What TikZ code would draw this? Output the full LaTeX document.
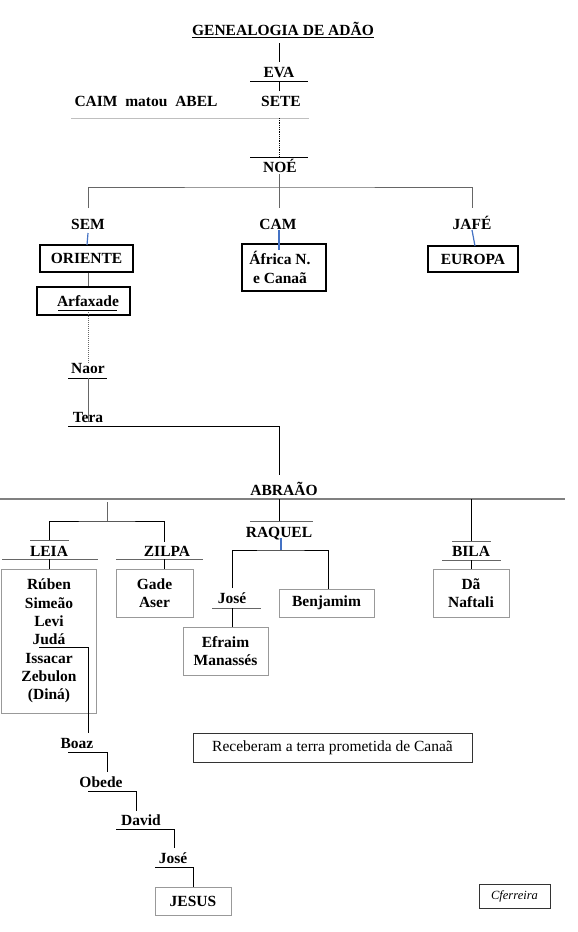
\documentclass[tikz,border=0pt]{standalone}
\usepackage{fontspec}
\setmainfont{Liberation Serif}
\definecolor{lblue}{RGB}{68,114,196}
\begin{document}
\begin{tikzpicture}[x=1pt,y=-1pt,
  t/.style={font=\fontsize{15.5}{18.3}\selectfont\bfseries, inner sep=0pt, text height=12pt, text depth=1.8pt},
  bt/.style={font=\fontsize{15.5}{18.3}\selectfont\bfseries, align=center, inner sep=0pt},
  kbox/.style={bt, draw=black, line width=1.2pt},
  gbox/.style={bt, draw=black!40, line width=1pt},
  ln/.style={draw=black, line width=0.8pt},
  gln/.style={draw=black!60, line width=1pt},
  bl/.style={draw=lblue, line width=1.2pt}]
\useasboundingbox (0,0) rectangle (578,932);
\fill[white] (0,0) rectangle (578,932);

% ---------- top ----------
\node[t] (title) at (283,30) {GENEALOGIA DE ADÃO};
\draw[ln] (title.south west) -- (title.south east);
\coordinate (t1) at (279,43);
\coordinate (t2) at (279,62);
\draw[ln] (t1) -- (t2);
\node[t] (eva) at (279,72) {EVA};
\draw[ln] (250,81) -- (308,81);
\coordinate (e1) at (279,81);
\coordinate (e2) at (279,91);
\draw[ln] (e1) -- (e2);
\node[t] (sete) at (281,101) {SETE};
\node[t] (caim) at (146,101) {CAIM\ \ matou\ \ ABEL};
\draw[draw=black!25, line width=0.8pt] (71,118) -- (309,118);
\coordinate (s1) at (279,118);
\coordinate (n0) at (279,157.5);
\draw[ln, densely dotted] (s1) -- (n0);
\draw[ln] (250,157.5) -- (308,157.5);
\node[t] (noe) at (280,167) {NOÉ};

% ---------- sons of Noah ----------
\coordinate (n1) at (279,174);
\coordinate (n2) at (279,187);
\coordinate (semtop) at (88,208);
\coordinate (camtop) at (279,208);
\coordinate (jafetop) at (472,208);
\draw[gln] (n1) -- (n2);
\draw[gln] (semtop) |- (n2) -| (jafetop);
\draw[gln] (n2) -- (camtop);
\node[t] (sem) at (88,224) {SEM};
\node[t] (cam) at (278,224) {CAM};
\node[t] (jafe) at (472,224) {JAFÉ};
\node[kbox, minimum width=93pt, minimum height=27pt] (oriente) at (86.5,258.5) {ORIENTE};
\draw[bl] (88,233) -- (87,245);
\node[kbox, minimum width=84pt, minimum height=47pt] (africa) at (284,267.5) {\hspace*{-8pt}África N.\\\hspace*{-8pt}e Canaã};
\draw[bl] (279,230) -- (279,250);
\node[kbox, minimum width=90pt, minimum height=26pt] (europa) at (473,259) {EUROPA};
\draw[bl] (472,230) -- (475,246);
\node[kbox, minimum width=93pt, minimum height=28pt] (arf) at (83.5,301) {\hspace*{9pt}Arfaxade};
\draw[gln] (oriente.south -| 88,0) -- (arf.north -| 88,0);
\draw[ln] (58,310.5) -- (117,310.5);
\coordinate (a1) at (88,312);
\coordinate (a2) at (88,363);
\draw[gln, densely dotted] (a1) -- (a2);
\node[t] (naor) at (88,368) {Naor};
\draw[ln] (68,378) -- (107,378);
\coordinate (na1) at (88,378);
\coordinate (na2) at (88,422);
\draw[gln] (na1) -- (na2);
\node[t] (tera) at (88,417) {Tera};
\coordinate (te1) at (68,426);
\coordinate (ab0) at (279,475);
\draw[ln] (te1) -| (ab0);
\node[t] (abraao) at (284,490) {ABRAÃO};
\draw[draw=black!50, line width=1.3pt] (0,499) -- (565,499);

% ---------- Leia / Zilpa ----------
\coordinate (l0) at (107,502);
\coordinate (l1) at (107,521);
\draw[gln] (l0) -- (l1);
\coordinate (leiatop) at (49,540);
\coordinate (zilpatop) at (164,542);
\draw[ln] (leiatop) |- (l1) -| (zilpatop);
\draw[gln] (30,540) -- (69,540);
\node[t] (leia) at (49,551) {LEIA};
\draw[gln] (2,559) -- (98,559);
\node[t] (zilpa) at (167,551) {ZILPA};
\draw[gln] (116,559) -- (203,559);
\node[gbox, minimum width=95pt, minimum height=144pt] (ruben) at (49,641) {Rúben\\Simeão\\Levi\\Judá\\Issacar\\Zebulon\\(Diná)};
\node[gbox, minimum width=77pt, minimum height=48pt] (gade) at (154.5,593) {Gade\\Aser};
\draw[ln] (49,559) -- (ruben.north);
\draw[ln] (164,559) -- (gade.north -| 164,0);

% ---------- Raquel ----------
\coordinate (r0) at (279,499);
\coordinate (r1) at (279,521);
\draw[ln] (r0) -- (r1);
\draw[gln] (250,521) -- (313,521);
\node[t] (raquel) at (279,532) {RAQUEL};
\draw[bl] (281,538) -- (281,550);
\coordinate (rq) at (281,550);
\coordinate (jtop) at (232,588);
\node[gbox, minimum width=95pt, minimum height=28pt] (benj) at (326.5,603) {Benjamim};
\draw[ln] (jtop) |- (rq) -| (benj.north -| 328,0);
\node[t] (jose1) at (232,598) {José};
\draw[gln] (212,608) -- (261,608);
\node[gbox, minimum width=85pt, minimum height=48pt] (efraim) at (225.5,651) {Efraim\\Manassés};
\draw[ln] (232,608) -- (efraim.north -| 232,0);

% ---------- Bila ----------
\coordinate (b0) at (471,499);
\coordinate (b1) at (471,541);
\draw[ln] (b0) -- (b1);
\draw[gln] (452,541) -- (491,541);
\node[t] (bila) at (471,551) {BILA};
\draw[gln] (442,560) -- (501,560);
\node[gbox, minimum width=76pt, minimum height=48pt] (da) at (471,593) {Dã\\Naftali};
\draw[ln] (471,560) -- (da.north);

% ---------- line of Juda ----------
\node[t] (boaz) at (77,743) {Boaz};
\coordinate (ju) at (39,647);
\coordinate (bz) at (88,733);
\draw[ln] (ju) -| (bz);
\coordinate (bz1) at (68,752);
\coordinate (bz2) at (107,772);
\draw[ln] (bz1) -| (bz2);
\node[t] (obede) at (101,782) {Obede};
\coordinate (ob1) at (88,791);
\coordinate (ob2) at (136,811);
\draw[ln] (ob1) -| (ob2);
\node[t] (david) at (141,820) {David};
\coordinate (dv1) at (116,829);
\coordinate (dv2) at (174,848);
\draw[ln] (dv1) -| (dv2);
\node[t] (jose2) at (173,858) {José};
\node[gbox, minimum width=76pt, minimum height=28pt] (jesus) at (193,901) {JESUS};
\coordinate (jo1) at (155,867);
\draw[ln] (jo1) -| (jesus.north);

% ---------- notes ----------
\node[draw=black!80, line width=1pt, minimum width=279pt, minimum height=29pt, inner sep=0pt, font=\fontsize{15.5}{18}\selectfont] (rec) at (332.5,747.5) {Receberam a terra prometida de Canaã};
\node[draw=black!80, line width=1pt, minimum width=71pt, minimum height=24pt, inner sep=0pt, font=\fontsize{12.5}{14}\selectfont\itshape] (cf) at (514.5,896) {Cferreira};
\end{tikzpicture}
\end{document}
